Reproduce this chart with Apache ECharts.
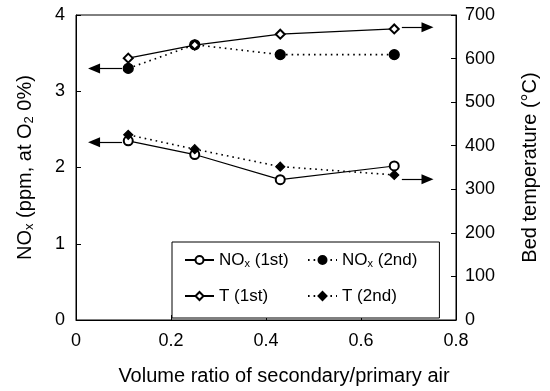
<!DOCTYPE html>
<html>
<head>
<meta charset="utf-8">
<script src="https://cdn.jsdelivr.net/npm/echarts@6/dist/echarts.min.js"></script>
<style>
  html, body { margin: 0; padding: 0; background: #fff; }
  #chart { width: 550px; height: 391px; }
</style>
</head>
<body>
<div id="chart"></div>
<script>
// Secondary/primary air volume ratio (x) for each run
const ratio = [0.11, 0.25, 0.43, 0.67];
// NOx emission, left axis
const nox1st = [2.35, 2.17, 1.84, 2.02];
const nox2nd = [3.30, 3.61, 3.48, 3.48];
// Bed temperature, right axis
const temp1st = [601, 631, 656, 668];
const temp2nd = [425, 392, 352, 333];
// Axis-pointer arrows: [xFrom, xTo, value]
const arrowNox1st = [0.097, 0.038, 2.33];
const arrowNox2nd = [0.097, 0.038, 3.30];
const arrowTemp1st = [0.686, 0.740, 672];
const arrowTemp2nd = [0.686, 0.740, 323];

const xTicks = { min: 0, max: 0.8, interval: 0.2 };
const noxTicks = { min: 0, max: 4, interval: 1 };
const tempTicks = { min: 0, max: 700, interval: 100 };

const FONT = 'Liberation Sans';
const sub = { fontSize: 13, fontFamily: FONT, color: '#000', padding: [9, 0, 0, 0] };

function pairs(xs, ys) { return xs.map((x, i) => [x, ys[i]]); }
function arrow(a) {
  return {
    silent: true,
    symbol: ['none', 'triangle'],
    symbolSize: [10, 12],
    lineStyle: { color: '#000', width: 1.2, type: 'solid' },
    label: { show: false },
    animation: false,
    data: [[{ coord: [a[0], a[2]] }, { coord: [a[1], a[2]] }]]
  };
}
function lineSeries(name, data, yIdx, symbol, size, dotted, a) {
  return {
    name, type: 'line', yAxisIndex: yIdx, data,
    symbol, symbolSize: size,
    lineStyle: dotted ? { color: '#000', width: 1.6, type: [1.6, 4] } : { color: '#000', width: 1.2, type: 'solid' },
    itemStyle: { color: '#000', borderColor: '#000', borderWidth: 1.2 },
    emphasis: { disabled: true },
    markLine: arrow(a),
    z: 3
  };
}

const axisCommon = {
  axisLine: { show: true, lineStyle: { color: '#000', width: 1 } },
  axisTick: { show: true, inside: true, length: 5, lineStyle: { color: '#000' } },
  splitLine: { show: false },
  axisLabel: { color: '#000', fontFamily: FONT, fontSize: 18 }
};

const chart = echarts.init(document.getElementById('chart'), null, { renderer: 'canvas' });
chart.setOption({
  animation: false,
  backgroundColor: '#fff',
  grid: { left: 76, right: 94, top: 15, bottom: 71, show: true, borderColor: '#000', borderWidth: 1 },
  xAxis: Object.assign({}, axisCommon, {
    type: 'value', min: xTicks.min, max: xTicks.max, interval: xTicks.interval,
    axisLabel: Object.assign({}, axisCommon.axisLabel, { margin: 12 }),
    name: 'Volume ratio of secondary/primary air',
    nameLocation: 'middle', nameGap: 46,
    nameTextStyle: { color: '#000', fontFamily: FONT, fontSize: 20, padding: [0, 0, 0, 36] }
  }),
  yAxis: [
    Object.assign({}, axisCommon, {
      type: 'value', position: 'left',
      min: noxTicks.min, max: noxTicks.max, interval: noxTicks.interval,
      axisLabel: Object.assign({}, axisCommon.axisLabel, { margin: 11 }),
      name: 'NO{s|x} (ppm, at O{s|2} 0%)',
      nameLocation: 'middle', nameGap: 40, nameRotate: 90,
      nameTextStyle: { color: '#000', fontFamily: FONT, fontSize: 20, rich: { s: sub } }
    }),
    Object.assign({}, axisCommon, {
      type: 'value', position: 'right',
      min: tempTicks.min, max: tempTicks.max, interval: tempTicks.interval,
      axisLabel: Object.assign({}, axisCommon.axisLabel, { margin: 9 }),
      name: 'Bed temperature (°C)',
      nameLocation: 'middle', nameGap: 64, nameRotate: 90,
      nameTextStyle: { color: '#000', fontFamily: FONT, fontSize: 20 }
    })
  ],
  legend: {
    left: 172, top: 242, width: 240,
    orient: 'horizontal',
    padding: [7, 22, 11, 12],
    itemGap: 14,
    itemWidth: 29, itemHeight: 10,
    borderColor: '#000', borderWidth: 1, backgroundColor: '#fff',
    data: ['NOx (1st)', 'NOx (2nd)', 'T (1st)', 'T (2nd)'],
    formatter: function (n) {
      return n.indexOf('NOx') === 0 ? 'NO{s|x}' + n.slice(3) : n;
    },
    textStyle: {
      color: '#000', fontFamily: FONT, fontSize: 17, width: 74, lineHeight: 22,
      rich: { s: { fontSize: 11, fontFamily: FONT, color: '#000', padding: [7, 0, 0, 0] } }
    }
  },
  series: [
    lineSeries('NOx (1st)', pairs(ratio, nox1st), 0, 'emptyCircle', 9, false, arrowNox1st),
    lineSeries('NOx (2nd)', pairs(ratio, nox2nd), 0, 'circle', 10, true, arrowNox2nd),
    lineSeries('T (1st)', pairs(ratio, temp1st), 1, 'emptyDiamond', 9, false, arrowTemp1st),
    lineSeries('T (2nd)', pairs(ratio, temp2nd), 1, 'diamond', 9, true, arrowTemp2nd)
  ]
});
</script>
</body>
</html>
